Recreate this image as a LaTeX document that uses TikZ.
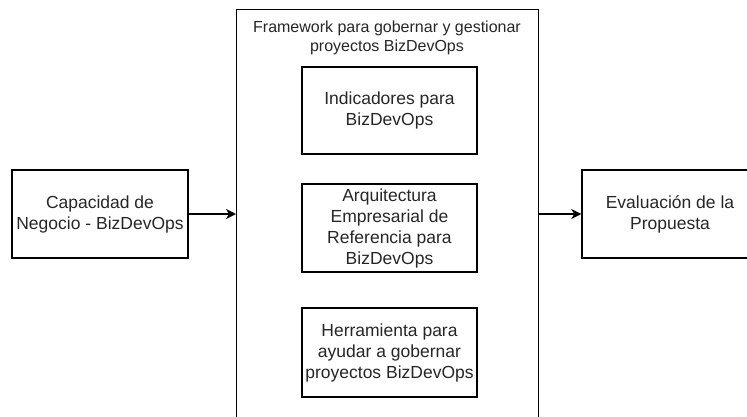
\documentclass[tikz,border=0pt]{standalone}
\usepackage{fontspec}
\setmainfont{Liberation Sans}
\usetikzlibrary{arrows.meta}
\begin{document}
\begin{tikzpicture}[x=1pt,y=-1pt,
  box/.style={draw=black, line width=1.4pt, minimum width=176pt, minimum height=88pt,
    inner sep=0pt, align=center, text=black!85,
    font=\fontsize{17.5}{21}\selectfont},
  arr/.style={line width=1.4pt, -{Stealth[length=10pt,width=10pt,inset=3pt]}}]
\useasboundingbox (0,0) rectangle (747,416);
\clip (0,0) rectangle (747,416);
% outer framework container
\node[draw=black, line width=1.4pt, minimum width=302pt, minimum height=431pt,
  inner sep=0pt, anchor=north west] (frame) at (236,9) {};
\node[align=center, text=black!85, font=\fontsize{16}{19.2}\selectfont]
  (title) at (387,38) {Framework para gobernar y gestionar\\proyectos BizDevOps};
% components inside the framework
\node[box, minimum width=175pt, minimum height=87pt] (ind) at (389.5,110.5) {Indicadores para\\BizDevOps};
\node[box, minimum width=175pt] (arq) at (389.5,228) {Arquitectura\\Empresarial de\\Referencia para\\BizDevOps};
\node[box, minimum width=175pt, minimum height=89pt] (her) at (389.5,352.5) {Herramienta para\\ayudar a gobernar\\proyectos BizDevOps};
% input and output
\node[box] (cap) at (100,214) {Capacidad de\\Negocio - BizDevOps};
\node[box] (eva) at (670,214) {Evaluación de la\\Propuesta};
\draw[arr] (cap.east) -- (cap.east -| frame.west);
\draw[arr] (eva.west -| frame.east) -- (eva.west);
\end{tikzpicture}
\end{document}
